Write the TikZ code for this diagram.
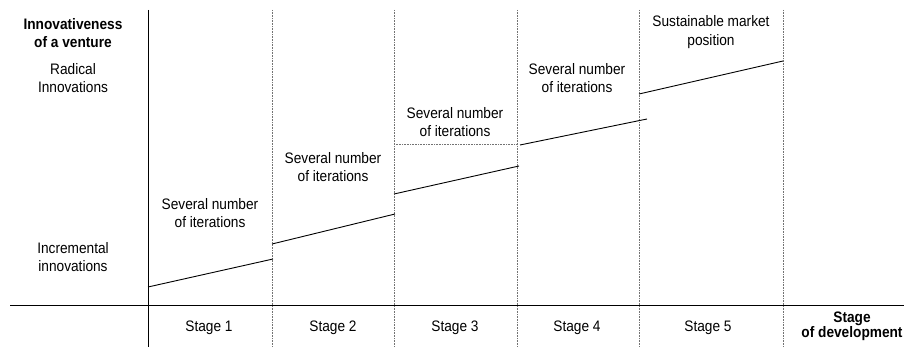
\documentclass[tikz,border=0pt]{standalone}
\usepackage{fontspec}
\setmainfont{Liberation Sans}[FakeStretch=0.9]
\usetikzlibrary{positioning}

\begin{document}
\begin{tikzpicture}[x=1pt, y=-1pt, font=\fontsize{15.2}{18.5}\selectfont,
      axis/.style={line width=0.9pt},
      border/.style={densely dotted, line width=0.6pt, black!55},
      trend/.style={line width=0.9pt},
      lbl/.style={align=center, inner sep=0pt},
      head/.style={lbl, font=\fontsize{15.2}{18.5}\selectfont\bfseries}]
    \useasboundingbox (0,0) rectangle (904,347);
    % axes
    \draw[axis] (10,305) -- (904,305);
    \draw[axis] (148,10) -- (148,347);
    % stage borders
    \draw[border] (272,10) -- (272,347);
    \draw[border] (394,10) -- (394,347);
    \draw[border] (517,10) -- (517,347);
    \draw[border] (639,10) -- (639,347);
    \draw[border] (783,10) -- (783,347);
    \draw[border] (394,144) -- (517,144);
    % innovativeness per stage
    \draw[trend] (148,287) -- (273,259);
    \draw[trend] (272,244) -- (395,214);
    \draw[trend] (394,194) -- (519,166);
    \draw[trend] (520,145) -- (647,119);
    \draw[trend] (639,94) -- (783,61);
    % vertical axis
    \node[head] (yaxis) at (73,33) {Innovativeness\\of a venture};
    \node[lbl] (radical) at (73,78) {Radical\\Innovations};
    \node[lbl] (incremental) at (73,257) {Incremental\\innovations};
    % iterations
    \node[lbl] (it1) at (210,213) {Several number\\of iterations};
    \node[lbl] (it2) at (333,167) {Several number\\of iterations};
    \node[lbl] (it3) at (455,122) {Several number\\of iterations};
    \node[lbl] (it4) at (577,78) {Several number\\of iterations};
    \node[lbl] (market) at (711,32) {Sustainable market\\position};
    % horizontal axis
    \node[lbl] (s1) at (209,328) {Stage 1};
    \node[lbl] (s2) at (333,328) {Stage 2};
    \node[lbl] (s3) at (455,328) {Stage 3};
    \node[lbl] (s4) at (577,328) {Stage 4};
    \node[lbl] (s5) at (708,328) {Stage 5};
    \node[head, font=\fontsize{15.2}{13}\selectfont\bfseries] (xaxis) at (852,326) {Stage\\of development};
  \end{tikzpicture}
\end{document}
